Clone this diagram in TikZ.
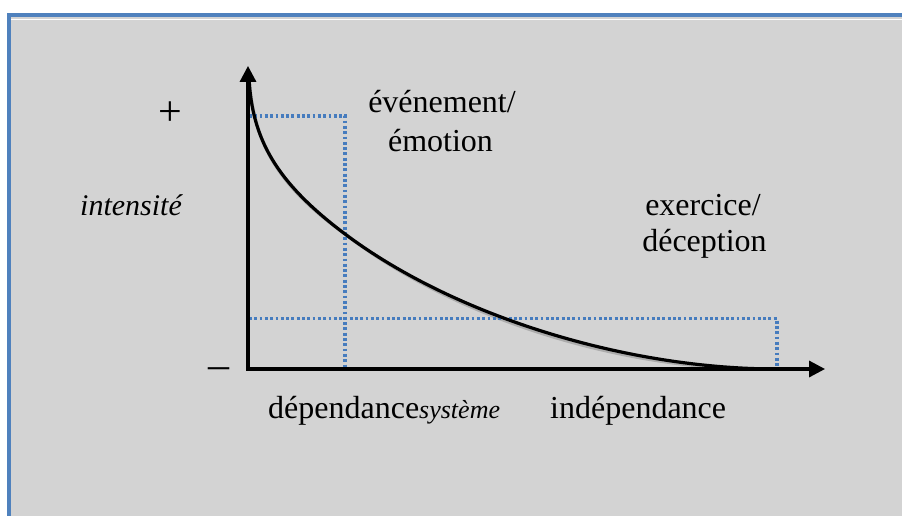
\documentclass[tikz,border=0pt]{standalone}
\usepackage{fontspec}
\setmainfont{Liberation Serif}
\usetikzlibrary{arrows.meta}
\definecolor{bg}{RGB}{211,211,211}
\definecolor{frameblue}{RGB}{79,129,189}
\definecolor{dotblue}{RGB}{70,124,190}
\definecolor{shadowgray}{RGB}{172,172,172}
\definecolor{dotshade}{RGB}{188,188,188}
\begin{document}
\begin{tikzpicture}[x=1pt,y=-1pt,
  axisline/.style={line width=3.2pt, line join=miter,
    {Triangle[length=16pt,width=16pt]}-{Triangle[length=16pt,width=16pt]}},
  guide/.style={dotblue, line width=3.2pt, dash pattern=on 2.8pt off 2.5pt},
  guideshadow/.style={dotshade, line width=3.2pt, dash pattern=on 2.8pt off 2.5pt},
  curveline/.style={line width=3.2pt},
  lbl/.style={font=\fontsize{32}{37}\selectfont, inner sep=0pt, anchor=base},
  sign/.style={font=\fontsize{42}{48}\selectfont, inner sep=0pt, anchor=base},
]
\useasboundingbox (0,0) rectangle (902,516);
\fill[white] (0,0) rectangle (902,516);
\fill[bg] (9,15) rectangle (902,516);
\draw[frameblue, line width=3.6pt] (9.2,530) -- (9.2,15) -- (910,15);
\draw[white, line width=1.3pt] (11,19.3) -- (902,19.3);

% coordinates
\coordinate (O) at (248,369);
\coordinate (Ytop) at (248,66);
\coordinate (Xend) at (825,369);
\coordinate (A1) at (249,116);
\coordinate (A2) at (345,116);
\coordinate (A3) at (345,369);
\coordinate (B1) at (249,318.7);
\coordinate (B2) at (777,318.7);
\coordinate (B3) at (777,369);
\coordinate (C0) at (249,78);
\coordinate (C1) at (345,234);
\coordinate (C2) at (777,369);

% shadows
\begin{scope}[shift={(1,4.5)}]
  \draw[guideshadow] (A1) -- (A2) -- (A3);
  \draw[guideshadow] (B1) -- (B2) -- (B3);
\end{scope}
\begin{scope}[shift={(1.5,3.5)}]
  \draw[curveline, draw=shadowgray] (C0) .. controls (252,138) and (275,181.5) .. (C1)
    .. controls (455,316.5) and (627,369) .. (C2);
  \draw[axisline, draw=shadowgray] (Ytop) -- (O) -- (Xend);
\end{scope}

% guides
\draw[guide] (A1) -- (A2) -- (A3);
\draw[guide] (B1) -- (B2) -- (B3);

% curve
\draw[curveline, draw=black] (C0) .. controls (252,138) and (275,181.5) .. (C1)
    .. controls (455,316.5) and (627,369) .. (C2);

% axes
\draw[axisline, draw=black] (Ytop) -- (O) -- (Xend);

% labels
\node[sign] (plus) at (170,126) {+};
\node[sign] (minus) at (219,378.5) {–};
\node[lbl, font=\fontsize{30}{36}\selectfont\itshape] (int) at (131,215) {intensité};
\node[lbl] (ev1) at (442,113) {événement/};
\node[lbl] (ev2) at (440.5,151.5) {émotion};
\node[lbl] (ex1) at (703,215) {exercice/};
\node[lbl] (ex2) at (704.5,251.7) {déception};
\node[lbl, anchor=base west] (dep) at (268,418) {dépendance{\fontsize{26}{30}\selectfont\itshape système}};
\node[lbl, anchor=base west] (indep) at (550,418) {indépendance};
\end{tikzpicture}
\end{document}
